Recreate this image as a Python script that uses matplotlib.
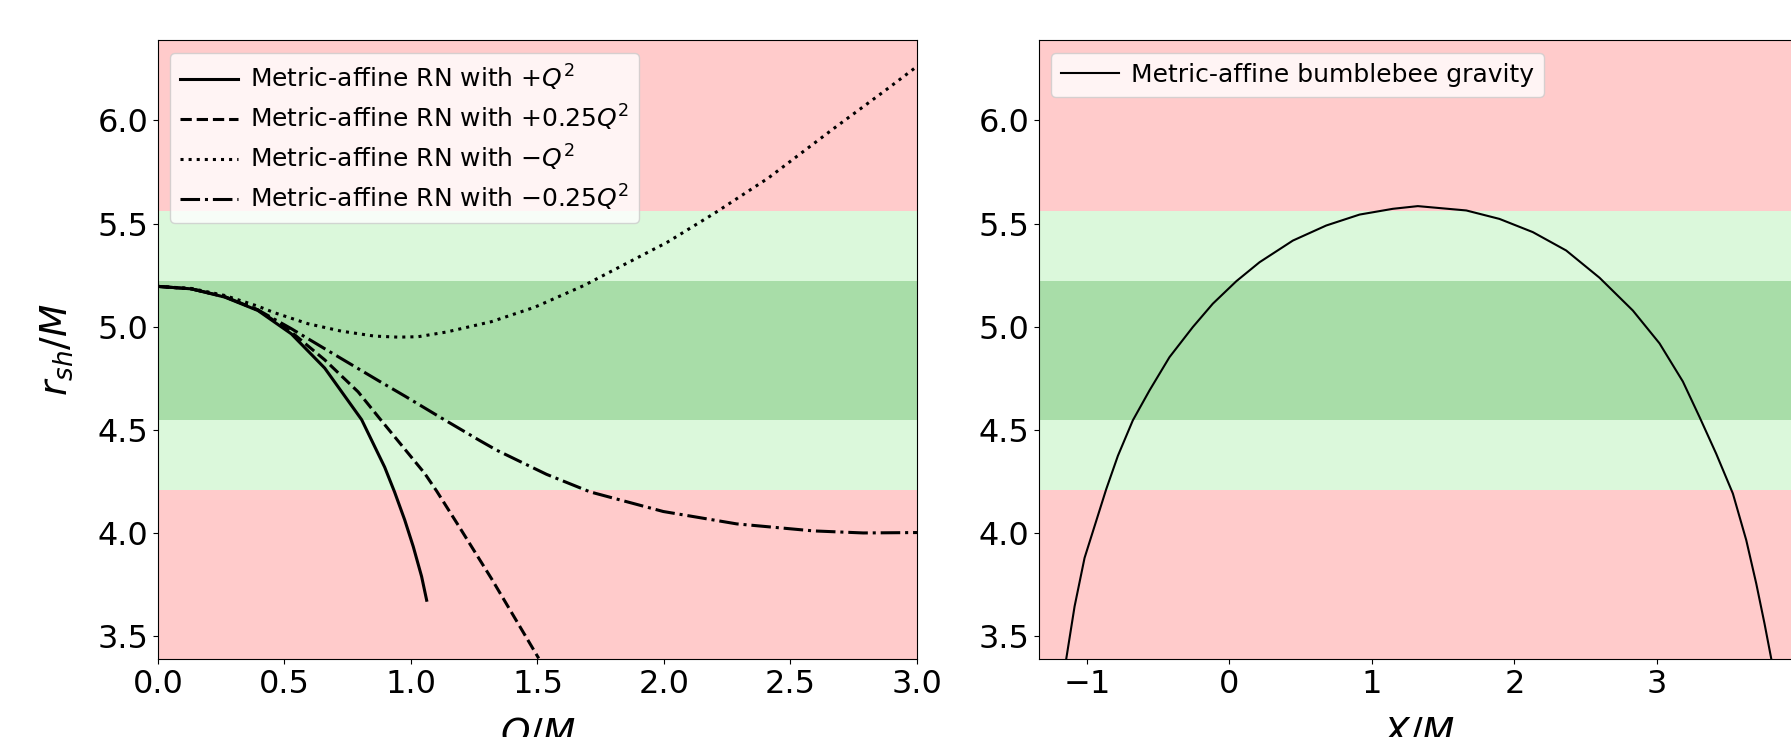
import numpy as np
import matplotlib.pyplot as plt

# EHT-type bounds on shadow radius
sig1 = (4.55, 5.22)
sig2 = (4.21, 5.56)

# left panel: r_sh/M vs Q/M
q_p1 = [0.0, 0.132, 0.264, 0.395, 0.527, 0.659, 0.805, 0.896, 0.935, 0.975, 1.009, 1.042, 1.062]
r_p1 = [5.196, 5.184, 5.144, 5.079, 4.966, 4.800, 4.550, 4.320, 4.200, 4.065, 3.935, 3.790, 3.675]

q_p025 = [0.0, 0.132, 0.264, 0.395, 0.527, 0.659, 0.791, 0.880, 1.054, 1.101, 1.186,
          1.318, 1.505]
r_p025 = [5.196, 5.184, 5.146, 5.082, 4.975, 4.840, 4.685, 4.550, 4.290, 4.205, 4.040,
          3.780, 3.393]

q_m1 = [0.0, 0.132, 0.264, 0.395, 0.461, 0.593, 0.725, 0.856, 0.950, 1.028, 1.141,
        1.318, 1.489, 1.683, 2.013, 2.199, 2.411, 2.675, 2.874, 3.0]
r_m1 = [5.196, 5.186, 5.152, 5.100, 5.068, 5.015, 4.979, 4.955, 4.950, 4.952, 4.975,
        5.025, 5.095, 5.200, 5.410, 5.550, 5.720, 5.965, 6.145, 6.262]

q_m025 = [0.0, 0.132, 0.264, 0.395, 0.527, 0.659, 0.711, 0.877, 0.975, 1.115, 1.273,
          1.339, 1.536, 1.708, 1.997, 2.287, 2.590, 2.788, 3.0]
r_m025 = [5.196, 5.184, 5.146, 5.082, 4.991, 4.894, 4.856, 4.735, 4.665, 4.562, 4.448,
          4.402, 4.285, 4.200, 4.105, 4.045, 4.011, 4.001, 4.003]

# right panel: r_sh/M vs X/M
x_bb = [-1.145, -1.087, -1.017, -0.865, -0.783, -0.678, -0.561, -0.421, -0.257,
        -0.117, 0.048, 0.211, 0.445, 0.679, 0.913, 1.147, 1.322, 1.662, 1.895,
        2.129, 2.363, 2.597, 2.831, 3.018, 3.182, 3.299, 3.416, 3.533, 3.627,
        3.697, 3.755, 3.802]
r_bb = [3.393, 3.645, 3.880, 4.213, 4.375, 4.547, 4.692, 4.853, 4.999,
        5.112, 5.221, 5.313, 5.418, 5.491, 5.544, 5.572, 5.585, 5.564, 5.523,
        5.459, 5.370, 5.238, 5.079, 4.920, 4.735, 4.563, 4.385, 4.192, 3.966,
        3.756, 3.562, 3.393]

red = '#ffcbcb'
lgreen = '#dbf8db'
dgreen = '#a8dda8'

ylim = (3.39, 6.39)

fig = plt.figure(figsize=(17.91, 7.37), dpi=100)
ax1 = fig.add_axes([0.0882, 0.1058, 0.4238, 0.8399])
ax2 = fig.add_axes([0.5801, 0.1058, 0.4238, 0.8399])

def bands(ax):
    ax.axhspan(ylim[0], sig2[0], color=red, lw=0, zorder=0)
    ax.axhspan(sig2[1], ylim[1], color=red, lw=0, zorder=0)
    ax.axhspan(sig2[0], sig1[0], color=lgreen, lw=0, zorder=0)
    ax.axhspan(sig1[1], sig2[1], color=lgreen, lw=0, zorder=0)
    ax.axhspan(sig1[0], sig1[1], color=dgreen, lw=0, zorder=0)

leg_kw = dict(loc='upper left', fontsize=18, labelspacing=0.4,
              handlelength=2.3, handletextpad=0.5)

bands(ax1)
ax1.plot(q_p1, r_p1, 'k-', lw=2.2, label=r'Metric-affine RN with $+Q^2$')
ax1.plot(q_p025, r_p025, 'k--', lw=2.2, label=r'Metric-affine RN with $+0.25Q^2$')
ax1.plot(q_m1, r_m1, 'k:', lw=2.2, label=r'Metric-affine RN with $-Q^2$')
ax1.plot(q_m025, r_m025, 'k-.', lw=2.2, label=r'Metric-affine RN with $-0.25Q^2$')
ax1.set_xlim(0, 3)
ax1.set_ylim(*ylim)
ax1.set_xlabel(r'$Q/M$', fontsize=27, labelpad=12)
ax1.set_ylabel(r'$r_{sh}/M$', fontsize=27, labelpad=16)
ax1.tick_params(labelsize=23)
ax1.legend(**leg_kw)

bands(ax2)
ax2.plot(x_bb, r_bb, 'k-', lw=1.5, label='Metric-affine bumblebee gravity')
ax2.set_xlim(-1.337, 3.99)
ax2.set_ylim(*ylim)
ax2.set_xlabel(r'$X/M$', fontsize=27, labelpad=12)
ax2.tick_params(labelsize=23)
ax2.legend(**leg_kw)

plt.savefig('out.png', dpi=100)
